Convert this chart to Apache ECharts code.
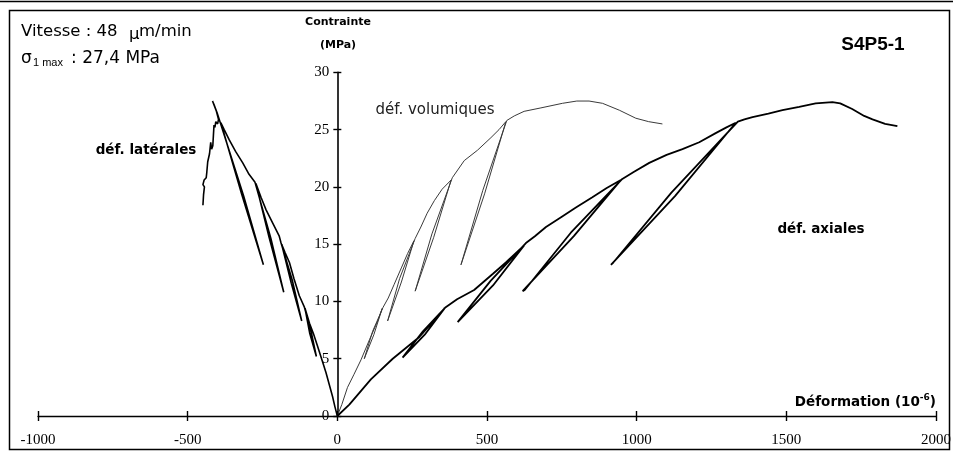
<!DOCTYPE html>
<html>
<head>
<meta charset="utf-8">
<script src="https://cdn.jsdelivr.net/npm/echarts@6/dist/echarts.min.js"></script>
<style>
  html, body { margin: 0; padding: 0; background: #fff; }
  #chart { width: 953px; height: 452px; }
</style>
</head>
<body>
<div id="chart"></div>
<script>
// Axis ranges and tick spacing
const xRange = [-1000, 2000];
const xStep = 500;
const yRange = [0, 30];
const yStep = 5;

// Axial strain (10^-6) vs stress (MPa), with four unload/reload loops
const axialCurve = [
  [0, 0], [40, 1.0], [112, 3.2], [185, 5.0], [274, 6.9], [352, 9.2], [358, 9.4],
  [292, 7.1], [218, 5.1], [222, 5.0], [286, 7.4], [362, 9.5],
  [400, 10.2], [457, 11.0], [519, 12.4], [563, 13.4], [624, 14.9], [627, 15.0],
  [520, 11.4], [402, 8.2], [408, 8.2], [512, 11.8], [630, 15.1],
  [660, 15.7], [697, 16.5], [750, 17.4], [797, 18.2], [852, 19.1], [900, 19.9], [947, 20.6],
  [790, 15.7], [619, 10.9], [626, 11.0], [780, 16.0], [952, 20.7],
  [990, 21.3], [1042, 22.1], [1100, 22.8], [1153, 23.3], [1209, 23.9], [1264, 24.7], [1300, 25.2], [1331, 25.6],
  [1128, 19.2], [914, 13.2], [922, 13.4], [1116, 19.5], [1338, 25.7],
  [1360, 25.9], [1387, 26.1], [1440, 26.4], [1487, 26.7], [1543, 27.0], [1598, 27.3],
  [1654, 27.4], [1680, 27.3], [1720, 26.8], [1760, 26.2], [1788, 25.9], [1830, 25.5], [1871, 25.3]
];

// Volumetric strain (10^-6) vs stress (MPa)
const volumetricCurve = [
  [0, 0], [15, 1.0], [34, 2.5], [55, 3.6], [79, 4.9], [108, 6.7], [135, 8.3], [150, 9.4],
  [122, 7.1], [90, 5.0], [94, 5.1], [118, 7.4], [153, 9.5],
  [170, 10.3], [190, 11.5], [215, 13.0], [235, 14.2], [256, 15.3],
  [214, 11.7], [168, 8.3], [172, 8.4], [208, 12.0], [260, 15.5],
  [279, 16.5], [300, 17.7], [324, 18.8], [350, 19.8], [380, 20.6],
  [322, 15.6], [260, 10.9], [264, 11.0], [316, 15.9], [384, 20.8],
  [424, 22.3], [468, 23.2], [513, 24.3], [540, 25.0], [563, 25.7],
  [492, 19.4], [413, 13.2], [418, 13.3], [486, 19.7], [566, 25.8],
  [591, 26.2], [624, 26.6], [680, 26.9], [752, 27.3], [800, 27.5], [841, 27.5],
  [886, 27.3], [942, 26.7], [997, 26.0], [1040, 25.7], [1086, 25.5]
];

// Lateral strain (10^-6) vs stress (MPa)
const lateralCurve = [
  [0, 0], [-8, 0.8], [-16, 1.7], [-38, 3.8], [-55, 5.2], [-66, 6.1], [-80, 7.2], [-93, 8.1], [-108, 9.4],
  [-92, 7.2], [-70, 5.2], [-72, 5.1], [-87, 7.3], [-110, 9.5],
  [-127, 10.5], [-145, 12.0], [-160, 13.4], [-175, 14.3], [-186, 15.0],
  [-154, 11.6], [-119, 8.3], [-121, 8.3], [-150, 11.8], [-188, 15.1],
  [-194, 15.7], [-215, 16.8], [-238, 18.0], [-255, 19.1], [-272, 20.3],
  [-228, 15.6], [-179, 10.8], [-182, 10.8], [-222, 15.5], [-275, 20.4],
  [-295, 21.1], [-316, 22.1], [-340, 23.1], [-361, 24.1], [-378, 25.0], [-389, 25.6],
  [-320, 19.4], [-247, 13.2], [-250, 13.3], [-313, 19.2], [-392, 25.7],
  [-402, 26.5], [-412, 27.2], [-417, 27.5], [-413, 27.4], [-404, 26.6], [-397, 25.9], [-400, 25.5],
  [-406, 25.7], [-409, 25.2], [-412, 25.4], [-414, 24.5], [-416, 23.6], [-420, 23.3], [-423, 23.9],
  [-427, 22.9], [-433, 22.2], [-436, 21.3], [-438, 20.8], [-445, 20.6], [-449, 20.2], [-444, 20.0],
  [-447, 19.3], [-449, 18.4]
];

const serifFont = '"Liberation Serif", "Times New Roman", serif';
const sansFont = '"DejaVu Sans", "Liberation Sans", Arial, sans-serif';
const arialFont = '"Liberation Sans", Arial, sans-serif';

const W = 953;
const gridLeft = 38, gridRight = 17;
const gridWidth = W - gridLeft - gridRight;
// The stress axis stands at zero strain, inside the plot area
const yAxisOffset = -(0 - xRange[0]) / (xRange[1] - xRange[0]) * gridWidth;

const chart = echarts.init(document.getElementById('chart'), null, { renderer: 'canvas' });

function baseX(extra) {
  return Object.assign({
    type: 'value', min: xRange[0], max: xRange[1], interval: xStep,
    position: 'bottom', splitLine: { show: false }
  }, extra);
}
function baseY(extra) {
  return Object.assign({
    type: 'value', min: yRange[0], max: yRange[1], interval: yStep,
    position: 'left', offset: yAxisOffset, splitLine: { show: false }
  }, extra);
}

const option = {
  backgroundColor: '#fff',
  animation: false,
  grid: { left: gridLeft, right: gridRight, top: 72.4, bottom: 36, outerBoundsMode: 'none' },
  xAxis: [
    baseX({
      axisLine: { show: true, onZero: false, lineStyle: { color: '#000', width: 1.4 } },
      axisTick: { show: true, inside: false, length: 5, lineStyle: { color: '#000', width: 1.4 } },
      axisLabel: { color: '#000', fontFamily: serifFont, fontSize: 15, margin: 17, formatter: v => String(v) }
    }),
    baseX({
      axisLine: { show: false, onZero: false },
      axisTick: { show: true, inside: true, length: 5, lineStyle: { color: '#000', width: 1.4 } },
      axisLabel: { show: false }
    })
  ],
  yAxis: [
    baseY({
      axisLine: { show: true, onZero: false, lineStyle: { color: '#000', width: 1.6 } },
      axisTick: { show: true, inside: false, length: 4, lineStyle: { color: '#000', width: 1.4 } },
      axisLabel: { color: '#000', fontFamily: serifFont, fontSize: 15, margin: 8, formatter: v => String(v) }
    }),
    baseY({
      axisLine: { show: false, onZero: false },
      axisTick: { show: true, inside: true, length: 4, lineStyle: { color: '#000', width: 1.4 } },
      axisLabel: { show: false }
    })
  ],
  series: [
    {
      name: 'déf. axiales', type: 'line', data: axialCurve,
      xAxisIndex: 0, yAxisIndex: 0, showSymbol: false, symbol: 'none',
      lineStyle: { color: '#000', width: 1.8 }, z: 3
    },
    {
      name: 'déf. volumiques', type: 'line', data: volumetricCurve,
      xAxisIndex: 0, yAxisIndex: 0, showSymbol: false, symbol: 'none',
      lineStyle: { color: '#3a3a3a', width: 1 }, z: 2
    },
    {
      name: 'déf. latérales', type: 'line', data: lateralCurve,
      xAxisIndex: 0, yAxisIndex: 0, showSymbol: false, symbol: 'none',
      lineStyle: { color: '#000', width: 1.6 }, z: 3
    }
  ],
  graphic: [
    // frame
    { type: 'rect', shape: { x: 9.5, y: 10.5, width: 940, height: 439 }, style: { fill: 'none', stroke: '#000', lineWidth: 1.5 }, silent: true },
    { type: 'line', shape: { x1: 0, y1: 1.5, x2: 953, y2: 1.5 }, style: { stroke: '#000', lineWidth: 1.5 }, silent: true },
    // test conditions
    { type: 'text', x: 21, y: 32, style: { text: 'Vitesse : 48', fontFamily: sansFont, fontSize: 16.5, fill: '#000', textVerticalAlign: 'middle' } },
    { type: 'text', x: 129, y: 35, style: { text: 'μ', fontFamily: sansFont, fontSize: 16.5, fill: '#000', textVerticalAlign: 'middle' } },
    { type: 'text', x: 139, y: 32, style: { text: 'm/min', fontFamily: sansFont, fontSize: 16.5, fill: '#000', textVerticalAlign: 'middle' } },
    { type: 'text', x: 21, y: 59, style: { text: 'σ', fontFamily: sansFont, fontSize: 17, fill: '#000', textVerticalAlign: 'middle' } },
    { type: 'text', x: 33, y: 63, style: { text: '1 max', fontFamily: arialFont, fontSize: 11, fill: '#000', textVerticalAlign: 'middle' } },
    { type: 'text', x: 71, y: 59, style: { text: ': 27,4 MPa', fontFamily: sansFont, fontSize: 17, fill: '#000', textVerticalAlign: 'middle' } },
    // axis titles
    { type: 'text', x: 338, y: 22, style: { text: 'Contrainte', fontFamily: sansFont, fontWeight: 'bold', fontSize: 11, fill: '#000', textAlign: 'center', textVerticalAlign: 'middle' } },
    { type: 'text', x: 338, y: 45, style: { text: '(MPa)', fontFamily: sansFont, fontWeight: 'bold', fontSize: 11, fill: '#000', textAlign: 'center', textVerticalAlign: 'middle' } },
    {
      type: 'text', x: 936, y: 402,
      style: {
        text: '{a|Déformation (10}{s|-6}{a|)}',
        textAlign: 'right', textVerticalAlign: 'middle',
        rich: {
          a: { fontFamily: sansFont, fontWeight: 'bold', fontSize: 13.5, fill: '#000', lineHeight: 18 },
          s: { fontFamily: sansFont, fontWeight: 'bold', fontSize: 9, fill: '#000', lineHeight: 18, padding: [0, 0, 8, 0] }
        }
      }
    },
    // specimen id
    { type: 'text', x: 873, y: 45, style: { text: 'S4P5-1', fontFamily: arialFont, fontWeight: 'bold', fontSize: 19, fill: '#000', textAlign: 'center', textVerticalAlign: 'middle' } },
    // curve labels
    { type: 'text', x: 435, y: 110, style: { text: 'déf. volumiques', fontFamily: sansFont, fontSize: 15, fill: '#222', textAlign: 'center', textVerticalAlign: 'middle' } },
    { type: 'text', x: 146, y: 150, style: { text: 'déf. latérales', fontFamily: sansFont, fontWeight: 'bold', fontSize: 13.5, fill: '#000', textAlign: 'center', textVerticalAlign: 'middle' } },
    { type: 'text', x: 821, y: 229, style: { text: 'déf. axiales', fontFamily: sansFont, fontWeight: 'bold', fontSize: 13.5, fill: '#000', textAlign: 'center', textVerticalAlign: 'middle' } }
  ]
};

chart.setOption(option);
</script>
</body>
</html>
